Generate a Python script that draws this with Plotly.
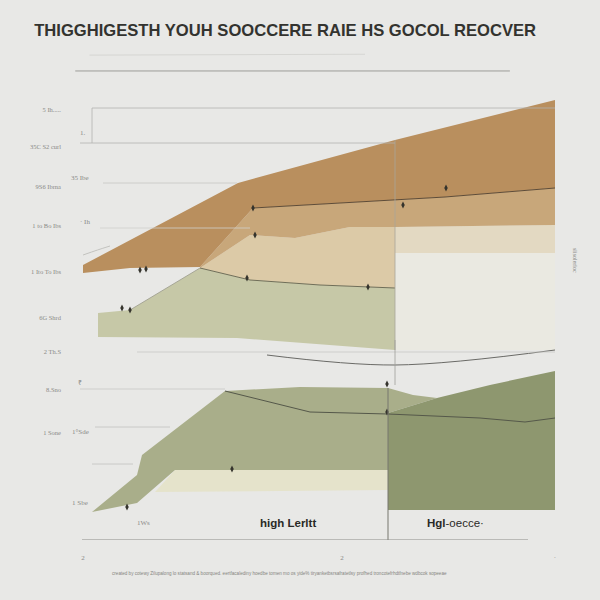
import plotly.graph_objects as go

# ---------------- data ----------------
title_text = "THIGGHIGESTH YOUH SOOCCERE RAIE HS GOCOL REOCVER"

y_tick_vals = [107.5, 98.25, 88.25, 78.5, 67, 55.5, 47, 37.5, 26.75]
y_tick_text = ["5 Ih.....", "35C S2 curl", "9S6 Ibrna", "1 to Bo Ibs", "1 Ito To Ibs",
               "6G Shrd", "2 Th.S", "8.Sno", "1 Sone"]
x_tick_vals = [0.6, 52.4, 95]
x_tick_text = ["2", "2", "·"]

# top panel layers (upper / lower edges)
brown_x_up = [0.6, 31.6, 63, 95]
brown_y_up = [68.75, 89.25, 100, 110]
brown_x_lo = [0.6, 10, 24, 34.6, 63, 73, 95]
brown_y_lo = [66.75, 68, 68.25, 83, 85, 85.75, 88]

mid_x_up = [24, 34.6, 63, 73, 95]
mid_y_up = [68.25, 83, 85, 85.75, 88]
mid_x_lo = [24, 34, 43, 54, 63, 95]
mid_y_lo = [68, 76.25, 75.5, 78.25, 78.25, 78.75]

tan_x_up = [24, 34, 43, 54, 63]
tan_y_up = [68, 76.25, 75.5, 78.25, 78.25]
tan_x_lo = [24, 34, 48, 63]
tan_y_lo = [68, 65, 63.75, 63]

beige_x = [63, 95]
beige_y_up = [78.25, 78.75]
beige_y_lo = [71.75, 71.75]

pale_x = [63, 95]
pale_y_up = [71.75, 71.75]
pale_y_lo = [47.5, 47.5]

green_x_up = [3.6, 10, 24, 34, 48, 63]
green_y_up = [56.75, 57.5, 68, 65, 63.75, 63]
green_x_lo = [3.6, 31.4, 63]
green_y_lo = [50.75, 50.5, 47.5]

# bottom panel layers
sage_x_up = [2.4, 11.4, 12.4, 29, 44, 61.6, 66.6, 71.4]
sage_y_up = [7, 16.25, 21.25, 37.25, 38.25, 38, 36.25, 35.5]
sage_x_lo = [2.4, 11.4, 19, 61.6, 61.6, 71.4]
sage_y_lo = [7, 9.25, 17.5, 17.5, 31.75, 35.5]

cream_x_up = [19, 61.6]
cream_y_up = [17.5, 17.5]
cream_x_lo = [15, 61.6]
cream_y_lo = [12, 12.5]

olive_x_up = [61.6, 71.4, 82, 95]
olive_y_up = [31.75, 35.5, 38.75, 42.25]
olive_x_lo = [61.6, 95]
olive_y_lo = [7.5, 7.5]

# lines
line1_x = [34.6, 63, 73, 95]
line1_y = [83, 85, 85.75, 88]
line2_x = [24, 34, 48, 63]
line2_y = [68, 65, 63.75, 63]
line3_x = [10, 24]
line3_y = [57.5, 68]
curve_x = [37.4, 63, 95]
curve_y = [46.25, 43.75, 47.5]
line4_x = [29, 46, 61.6, 80, 89, 95]
line4_y = [37.25, 32, 31.5, 30.5, 29.5, 30.5]
faint_x = [0.6, 3.5, 6]
faint_y = [71.25, 72.5, 73.5]

# marker points
pin_x = [34.6, 64.6, 73.2, 35, 10, 8.4, 12, 13.2, 33.4, 57.6, 61.4, 61.4, 30.4, 9.4]
pin_y = [83, 83.75, 88, 76.25, 57.5, 58, 67.5, 67.75, 65.5, 63.25, 39, 32, 17.75, 8.25]

# inner labels
inner_x = [0.6, 0, 1, -0.4, 0, 0, 0, 12.6]
inner_y = [101.75, 90.5, 79.5, 55.5, 39.25, 27, 9.25, 4.25]
inner_text = ["1.", "35 Ibe", "· Ih", "7.S3 ple", "₹", "1°Sde", "1 Sbe", "1Ws"]

panel_labels = ["<b>high Lerltt</b>", "<b>Hgl</b>-oecce·"]
panel_label_x = [41.6, 75]
panel_label_y = [4.25, 4.25]

footnote = ("created by cotewy Zilupalong lo statsand & boorqued. eertfacalediny hoedbe tomen "
            "mo os yide% tiryanketbsrsafratetlsy profhed troncotefrhdtfnebe wdbcok sopeeae")
side_text = "slisolerloc"

BG = "#e8e8e6"

# ---------------- figure ----------------
fig = go.Figure()


def poly(xu, yu, xl, yl, color):
    fig.add_trace(go.Scatter(
        x=list(xu) + list(xl)[::-1], y=list(yu) + list(yl)[::-1],
        fill="toself", fillcolor=color, mode="lines", line=dict(width=0),
        hoverinfo="skip", showlegend=False))


poly(pale_x, pale_y_up, pale_x, pale_y_lo, "#eae9e1")
poly(beige_x, beige_y_up, beige_x, beige_y_lo, "#e3d9c2")
poly(green_x_up, green_y_up, green_x_lo, green_y_lo, "#c6c8a7")
poly(tan_x_up, tan_y_up, tan_x_lo, tan_y_lo, "#dccaa7")
poly(mid_x_up, mid_y_up, mid_x_lo, mid_y_lo, "#c8a77a")
poly(brown_x_up, brown_y_up, brown_x_lo, brown_y_lo, "#b98f5e")
poly(cream_x_up, cream_y_up, cream_x_lo, cream_y_lo, "#e5e3cb")
poly(sage_x_up, sage_y_up, sage_x_lo, sage_y_lo, "#a9ae8a")
poly(olive_x_up, olive_y_up, olive_x_lo, olive_y_lo, "#8e976f")


def line(xs, ys, color, width=1, shape="linear"):
    fig.add_trace(go.Scatter(x=xs, y=ys, mode="lines",
                             line=dict(color=color, width=width, shape=shape),
                             hoverinfo="skip", showlegend=False))


line(line1_x, line1_y, "#5e4c38", 1)
line(line2_x, line2_y, "#6f6e58", 1)
line(line3_x, line3_y, "#9a9a8c", 0.8)
line(curve_x, curve_y, "#6a6a66", 1, "spline")
line(line4_x, line4_y, "#55584a", 1)
line(faint_x, faint_y, "#b9b9b5", 0.8, "spline")

fig.add_trace(go.Scatter(x=pin_x, y=pin_y, mode="markers",
                         marker=dict(symbol="diamond-tall", size=5, color="#34332c"),
                         hoverinfo="skip", showlegend=False))

grid = "#b3b3b0"
shapes = [
    dict(type="line", xref="x", yref="y", x0=2.4, x1=95, y0=108, y1=108, line=dict(color=grid, width=0.8)),
    dict(type="line", xref="x", yref="y", x0=2.4, x1=2.4, y0=108, y1=99.25, line=dict(color=grid, width=0.8)),
    dict(type="line", xref="x", yref="y", x0=0, x1=63, y0=99.25, y1=99.25, line=dict(color=grid, width=0.8)),
    dict(type="line", xref="x", yref="y", x0=4.6, x1=31.4, y0=89.25, y1=89.25, line=dict(color="#c6c6c3", width=0.8)),
    dict(type="line", xref="x", yref="y", x0=4, x1=34, y0=78, y1=78, line=dict(color="#cfcfcc", width=0.8)),
    dict(type="line", xref="x", yref="y", x0=11.4, x1=95, y0=47, y1=47, line=dict(color="#c8c8c5", width=0.8)),
    dict(type="line", xref="x", yref="y", x0=-0.4, x1=29, y0=37.75, y1=37.75, line=dict(color="#c8c8c5", width=0.8)),
    dict(type="line", xref="x", yref="y", x0=3, x1=18, y0=28.25, y1=28.25, line=dict(color="#c2c2bf", width=0.8)),
    dict(type="line", xref="x", yref="y", x0=2.4, x1=10.6, y0=19, y1=19, line=dict(color="#c2c2bf", width=0.8)),
    dict(type="line", xref="x", yref="y", x0=63, x1=63, y0=100, y1=47.5, line=dict(color="#a8a49a", width=0.8)),
    dict(type="line", xref="x", yref="y", x0=63, x1=63, y0=50, y1=38.75, line=dict(color="#a0a09a", width=0.8)),
    dict(type="line", xref="x", yref="y", x0=61.6, x1=61.6, y0=38, y1=0, line=dict(color="#77776f", width=1)),
    dict(type="line", xref="x", yref="y", x0=0.4, x1=89.6, y0=0, y1=0, line=dict(color="#8c8c88", width=1)),
    dict(type="line", xref="paper", yref="paper", x0=-0.01, x1=0.905, y0=1.066, y1=1.066,
         line=dict(color="#9c9c98", width=1)),
    dict(type="line", xref="paper", yref="paper", x0=0.02, x1=0.6, y0=1.102, y1=1.104,
         line=dict(color="#d6d6d3", width=1)),
]

annotations = []
for tx, ty, tt in zip(inner_x, inner_y, inner_text):
    annotations.append(dict(x=tx, y=ty, xref="x", yref="y", text=tt, showarrow=False,
                            font=dict(family="Liberation Serif", size=7, color="#8a8a86")))
for tx, ty, tt in zip(panel_label_x, panel_label_y, panel_labels):
    annotations.append(dict(x=tx, y=ty, xref="x", yref="y", text=tt, showarrow=False,
                            font=dict(family="Liberation Sans", size=11.5, color="#2a2a27")))
annotations.append(dict(x=0.42, y=-0.086, xref="paper", yref="paper", text=footnote,
                        showarrow=False, font=dict(family="Liberation Sans", size=4.6, color="#85857f")))
annotations.append(dict(x=1.053, y=0.636, xref="paper", yref="paper", text=side_text,
                        textangle=90, showarrow=False,
                        font=dict(family="Liberation Serif", size=6, color="#8a8a86")))

fig.update_layout(
    width=600, height=600,
    margin=dict(l=80, r=45, t=100, b=60),
    paper_bgcolor=BG, plot_bgcolor="rgba(0,0,0,0)",
    title=dict(text="<b>" + title_text + "</b>", x=0.057, xanchor="left", y=0.95, yanchor="middle",
               font=dict(family="Liberation Sans", size=16.6, color="#33332f")),
    xaxis=dict(range=[0, 95], showgrid=False, zeroline=False, showline=False,
               tickvals=x_tick_vals, ticktext=x_tick_text, ticks="", ticklabelstandoff=12,
               tickfont=dict(family="Liberation Serif", size=7, color="#8a8a86")),
    yaxis=dict(range=[0, 110], showgrid=False, zeroline=False, showline=False,
               tickvals=y_tick_vals, ticktext=y_tick_text, ticks="", ticklabelstandoff=18,
               tickfont=dict(family="Liberation Serif", size=6.5, color="#8a8a86")),
    shapes=shapes,
    annotations=annotations,
    showlegend=False,
)

fig.write_html("out.html", config={"displayModeBar": False},
               post_script="document.body.style.margin='0';document.body.style.background='" + BG + "';")
